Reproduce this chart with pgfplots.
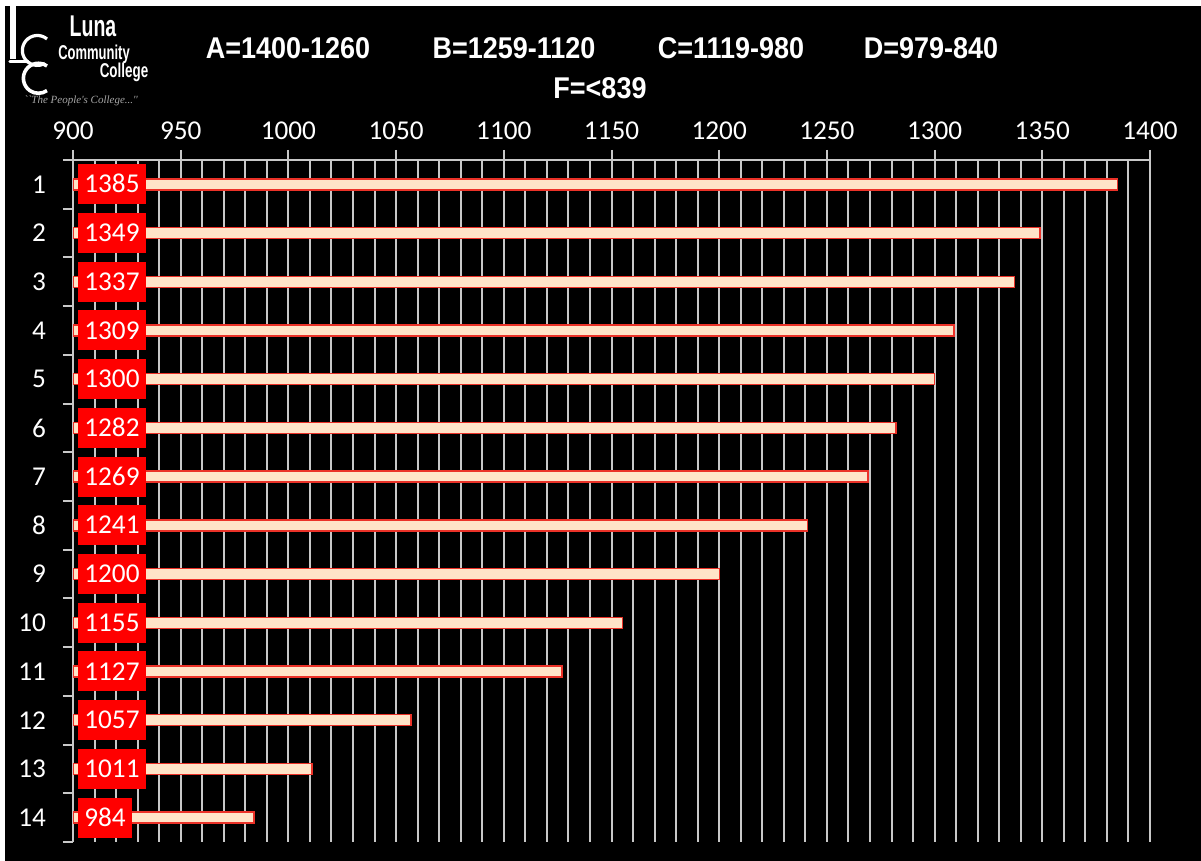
\documentclass[border=0pt]{standalone}
\usepackage{pgfplots}
\pgfplotsset{compat=1.18}
\usepackage{pgfplotstable}
\usepackage{fontspec}
\setmainfont{Carlito}
\newfontfamily\headfont{Liberation Sans}
\newfontfamily\serifit{Liberation Serif}
\definecolor{gridgray}{RGB}{200,200,200}
\definecolor{boxred}{RGB}{255,0,0}
\definecolor{barcream}{RGB}{255,228,200}
\definecolor{baredge}{RGB}{235,50,40}

\pgfplotstableread{
idx score
1 1385
2 1349
3 1337
4 1309
5 1300
6 1282
7 1269
8 1241
9 1200
10 1155
11 1127
12 1057
13 1011
14 984
}\scores

\begin{document}
\begin{tikzpicture}[x=1pt,y=1pt]
\fill[white] (0,0) rectangle (600.5,430.5);
\fill[black] (2.5,0) rectangle (600.5,427.5);
\useasboundingbox (0,0) rectangle (600.5,430.5);
% logo
\draw[white, line width=3pt] (6.5,427.5) -- (6.5,401);
\draw[white, line width=1.6pt, line cap=round] (5,399.8) -- (14,399.8);
\draw[white, line width=1.6pt] (23.5,411) arc[start angle=50, end angle=300, radius=7.5];
\draw[white, line width=1.8pt] (23.5,397.5) arc[start angle=55, end angle=305, radius=7.5];
\node[white, font=\headfont\bfseries\fontsize{15}{16}\selectfont, xscale=0.65, inner sep=0pt] at (46.5,417.5) {Luna};
\node[white, font=\headfont\bfseries\fontsize{10}{11}\selectfont, xscale=0.65, inner sep=0pt] at (47,403.5) {Community};
\node[white, font=\headfont\bfseries\fontsize{10}{11}\selectfont, xscale=0.67, inner sep=0pt] at (62,394.5) {College};
\node[gray!70, font=\serifit\itshape\fontsize{5.5}{6}\selectfont, inner sep=0pt] at (40.5,380) {``The People's College...''};
% header
\begin{scope}[every node/.style={white, font=\headfont\bfseries\fontsize{15}{18}\selectfont, xscale=0.9, inner sep=0pt}]
\node at (144,406.5) {A=1400-1260};
\node at (257,406.5) {B=1259-1120};
\node at (365.5,406.5) {C=1119-980};
\node at (465.5,406.5) {D=979-840};
\node at (300,386.5) {F=<839};
\end{scope}
\begin{axis}[
  at={(36.5pt,9.5pt)}, anchor=south west,
  scale only axis, width=538.5pt, height=341pt,
  xmin=900, xmax=1400, ymin=0.5, ymax=14.5, y dir=reverse,
  axis x line*=top, axis y line*=left,
  axis line style={gridgray, line width=1pt},
  xtick={900,950,...,1400}, minor x tick num=4,
  xmajorgrids, xminorgrids,
  major grid style={gridgray, line width=1pt},
  minor grid style={gridgray, line width=1pt},
  ytick={1,...,14},
  minor ytick={0.5,1.5,...,14.5},
  tick align=outside,
  major tick length=5pt, minor tick length=5pt,
  major x tick style={gridgray, line width=1pt},
  minor x tick style={draw=none},
  major y tick style={draw=none},
  minor y tick style={gridgray, line width=1pt},
  tick label style={white, font=\fontsize{13.6}{16}\selectfont},
  yticklabel style={xshift=-5pt},
  xticklabel style={yshift=1.5pt},
  /pgf/number format/assume math mode=true,
  /pgf/number format/1000 sep={},
]
\addplot[xbar, bar width=5.5pt, bar shift=0pt, draw=baredge, line width=0.7pt, fill=barcream]
  table[x=score, y=idx] {\scores};
\addplot[only marks, mark=none, point meta=explicit,
  nodes near coords,
  every node near coord/.append style={anchor=west, fill=boxred, text=white,
    font=\fontsize{13.6}{16}\selectfont, inner xsep=3.2pt, inner ysep=5.7pt,
    text height=8.6pt, text depth=0pt, outer sep=0pt, xshift=2.5pt}]
  table[x expr=900, y=idx, meta=score] {\scores};
\end{axis}
\end{tikzpicture}
\end{document}
